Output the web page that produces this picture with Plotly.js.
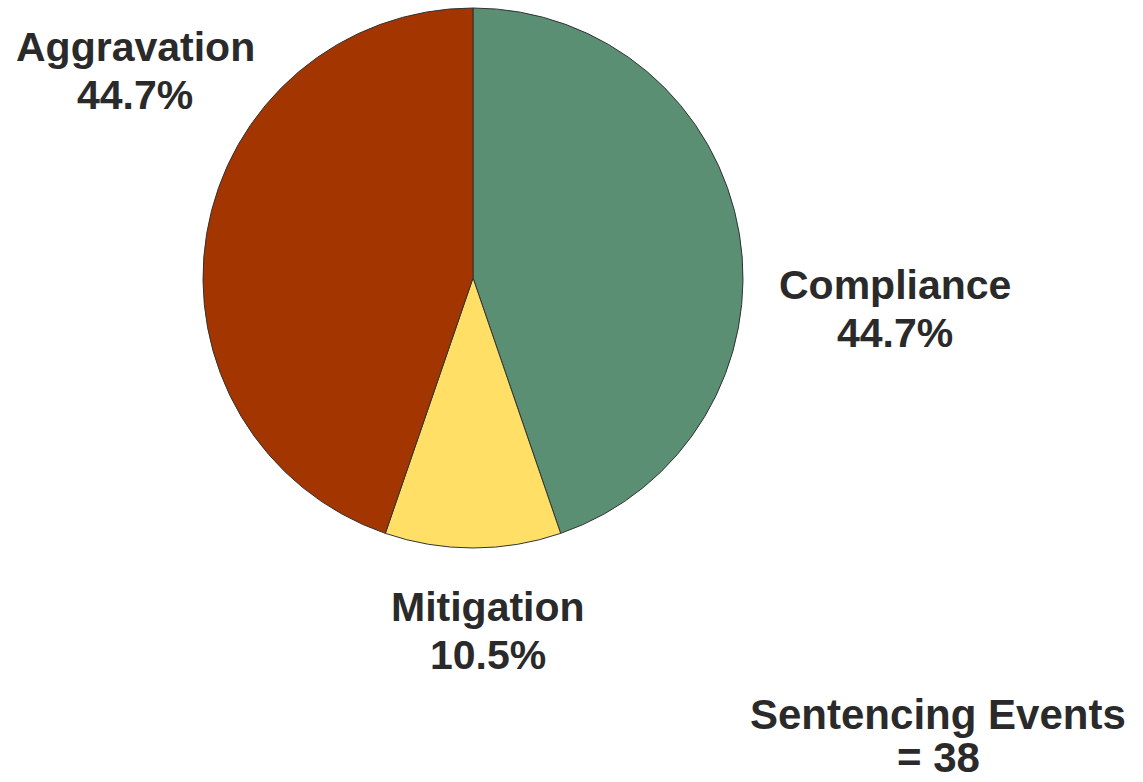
<!DOCTYPE html>
<html>
<head>
<meta charset="utf-8">
<script src="https://cdn.plot.ly/plotly-3.0.1.min.js"></script>
<style>html,body{margin:0;padding:0;background:#fff;}#chart{width:1143px;height:782px;}</style>
</head>
<body>
<div id="chart"></div>
<script>
var categories = ["Compliance", "Mitigation", "Aggravation"];
var counts = [17, 4, 17];
var colors = ["#5A8F73", "#FFDF66", "#A33500"];
var totalLabel = "Sentencing Events";

var total = counts.reduce(function(a, b){ return a + b; }, 0);
function pct(v){ return (100 * v / total).toFixed(1) + "%"; }

// label positions (pixels) for each category: [centerX, firstLineY]
var labelPos = {
  "Compliance": [895, 285],
  "Mitigation": [488, 607],
  "Aggravation": [135, 47]
};
var W = 1143, H = 782;
function mkFont(size){ return {family: "Liberation Sans, Arial, sans-serif", size: size, color: "#2a2a2a"}; }
var annotations = [];
function addText(txt, px, py, size, anchor){
  annotations.push({
    text: "<b>" + txt + "</b>", x: px / W, y: 1 - py / H, xref: "paper", yref: "paper",
    xanchor: "center", yanchor: anchor || "middle", showarrow: false, font: mkFont(size),
    borderpad: 0
  });
}
categories.forEach(function(c, i){
  var p = labelPos[c];
  addText(c, p[0], p[1], 41);
  addText(pct(counts[i]), p[0], p[1] + 48, 41);
});
addText(totalLabel, 938, 714, 42);
addText("= " + total, 938, 782, 42, "bottom");

var trace = {
  type: "pie",
  labels: categories,
  values: counts,
  sort: false,
  direction: "clockwise",
  rotation: 0,
  marker: {colors: colors, line: {color: "#333333", width: 1}},
  textinfo: "none",
  hoverinfo: "label+percent",
  domain: {x: [(473 - 270) / W, (473 + 270) / W], y: [1 - 548 / H, 1 - 8 / H]}
};

var layout = {
  width: W, height: H,
  margin: {l: 0, r: 0, t: 0, b: 0},
  paper_bgcolor: "#ffffff",
  showlegend: false,
  annotations: annotations
};
Plotly.newPlot("chart", [trace], layout, {displayModeBar: false, staticPlot: true});
</script>
</body>
</html>
